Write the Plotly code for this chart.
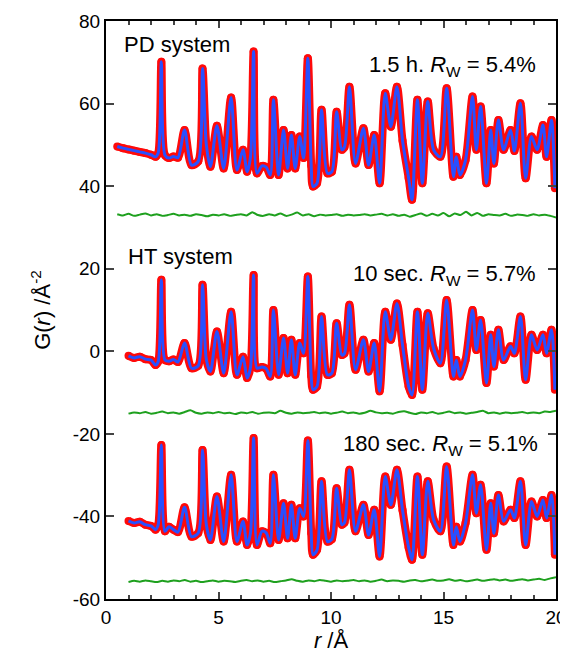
import plotly.graph_objects as go

# ---- data ----
r_knots = [1.0, 1.25, 1.5, 1.75, 2.0, 2.2, 2.32, 2.46, 2.62, 2.8,
           3.0, 3.2, 3.49, 3.8, 4.1, 4.29, 4.46, 4.64, 4.93, 5.23,
           5.56, 5.82, 6.09, 6.27, 6.42, 6.56, 6.71, 6.93, 7.12, 7.3,
           7.44, 7.67, 7.89, 8.07, 8.24, 8.41, 8.61, 8.78, 8.97, 9.12,
           9.2, 9.38, 9.58, 9.84, 10.04, 10.25, 10.48, 10.6, 10.82, 11.09,
           11.44, 11.67, 11.92, 12.16, 12.41, 12.66, 12.93, 13.18, 13.45, 13.6,
           13.84, 14.06, 14.3, 14.56, 14.86, 15.14, 15.44, 15.57, 15.73, 15.98,
           16.29, 16.46, 16.65, 16.91, 17.1, 17.24, 17.44, 17.67, 17.98, 18.15,
           18.42, 18.65, 18.91, 19.16, 19.42, 19.58, 19.8, 19.95]

r_pd_start = [0.5, 0.75]
pd_start = [49.6, 49.2]

pd_obs = [48.9, 48.6, 48.3, 48.0, 47.6, 47.1, 48.0, 70.1, 47.5, 46.8,
          47.2, 46.9, 53.6, 45.1, 46.0, 68.5, 50.0, 44.7, 54.6, 44.3,
          61.5, 43.9, 48.8, 43.5, 47.0, 72.6, 43.1, 44.9, 44.6, 42.7,
          60.9, 42.7, 53.6, 44.3, 52.4, 44.3, 52.0, 46.8, 71.0, 45.0,
          39.9, 40.7, 58.5, 43.1, 43.5, 58.0, 48.8, 49.5, 64.1, 45.5,
          54.0, 45.1, 52.4, 40.7, 62.5, 54.4, 64.1, 51.0, 42.0, 36.7,
          60.9, 40.7, 60.5, 48.8, 47.1, 63.7, 42.3, 47.1, 42.7, 46.3,
          61.7, 48.8, 59.3, 40.7, 53.6, 45.5, 56.0, 48.8, 53.6, 48.5,
          60.1, 41.9, 52.0, 48.8, 54.8, 47.1, 56.0, 39.5]

ht_obs = [-1.1, -1.6, -1.3, -1.9, -2.1, -3.3, -2.5, 17.3, -2.1, -2.4,
          -2.0, -2.6, 2.0, -4.1, -3.5, 16.1, -2.0, -4.9, 4.8, -5.3,
          9.6, -5.7, -1.3, -6.5, -4.0, 18.5, -4.1, -3.8, -4.2, -6.1,
          10.0, -5.7, 3.2, -5.3, 2.8, -5.7, 2.0, -0.5, 18.1, -6.0,
          -9.3, -8.5, 8.4, -5.7, -5.3, 6.8, -0.9, -0.5, 11.3, -4.5,
          2.8, -4.9, 2.0, -9.7, 9.6, 2.8, 11.6, 1.5, -8.5, -10.6,
          9.6, -9.3, 9.2, 0.7, -2.9, 12.4, -6.1, -2.1, -6.1, -2.1,
          10.0, 0.3, 7.6, -7.7, 4.0, -3.7, 5.2, -2.1, 1.2, -0.5,
          8.4, -6.9, 4.0, 0.3, 4.0, -0.5, 5.2, -9.3]

s180_obs = [-41.1, -41.6, -41.3, -42.0, -42.3, -43.2, -42.0, -22.7, -43.6, -42.5,
            -43.2, -43.8, -37.8, -44.9, -44.0, -23.9, -42.0, -45.7, -35.2, -46.1,
            -29.9, -46.1, -41.2, -46.9, -44.0, -21.0, -46.9, -43.6, -44.0, -46.5,
            -29.9, -45.7, -36.8, -45.3, -37.2, -45.3, -38.0, -40.0, -21.6, -44.0,
            -49.3, -48.1, -31.5, -46.1, -45.5, -33.2, -42.0, -41.5, -28.7, -43.6,
            -37.2, -44.5, -38.4, -49.7, -30.3, -37.2, -28.7, -38.5, -47.5, -50.5,
            -30.3, -49.3, -31.5, -40.8, -43.6, -27.9, -46.9, -42.5, -46.1, -41.6,
            -29.9, -39.2, -32.3, -48.1, -36.8, -44.1, -34.8, -41.2, -38.4, -40.4,
            -31.5, -46.9, -36.4, -40.0, -36.0, -40.4, -34.8, -49.3]

r_diff = [0.5, 0.75, 1.0, 1.25, 1.5, 1.75, 2.0, 2.25, 2.5, 2.75,
          3.0, 3.25, 3.5, 3.75, 4.0, 4.25, 4.5, 4.75, 5.0, 5.25,
          5.5, 5.75, 6.0, 6.25, 6.5, 6.75, 7.0, 7.25, 7.5, 7.75,
          8.0, 8.25, 8.5, 8.75, 9.0, 9.25, 9.5, 9.75, 10.0, 10.25,
          10.5, 10.75, 11.0, 11.25, 11.5, 11.75, 12.0, 12.25, 12.5, 12.75,
          13.0, 13.25, 13.5, 13.75, 14.0, 14.25, 14.5, 14.75, 15.0, 15.25,
          15.5, 15.75, 16.0, 16.25, 16.5, 16.75, 17.0, 17.25, 17.5, 17.75,
          18.0, 18.25, 18.5, 18.75, 19.0, 19.25, 19.5, 19.75, 20.0]

pd_diff = [33.2, 32.9, 33.3, 32.8, 33.1, 33.4, 32.9, 33.2, 32.8, 33.0,
           33.3, 32.9, 33.1, 32.8, 33.2, 33.0, 32.7, 33.1, 32.9, 33.2,
           32.8, 33.0, 33.2, 32.9, 33.7, 33.0, 32.8, 33.2, 32.9, 33.4,
           32.8, 33.1, 33.6, 32.9, 33.2, 32.7, 33.1, 32.9, 33.0, 33.2,
           32.8, 33.1, 32.9, 33.0, 33.2, 32.9, 33.1, 33.3, 32.9, 33.2,
           32.8, 33.1, 32.6, 33.0, 33.4, 32.8, 33.3, 32.9, 33.5, 32.7,
           33.4, 33.0, 33.8, 32.9, 33.5, 32.8, 33.2, 33.0, 32.9, 33.3,
           32.8, 33.1, 33.0, 32.8, 33.2, 32.9, 33.1, 32.8, 32.4]

ht_diff = [-15.1, -14.8, -15.0, -14.7, -15.1, -14.9, -14.6, -15.0, -14.8, -15.1,
           -14.7, -14.3, -14.9, -15.1, -14.8, -15.0, -14.7, -15.0, -14.9, -15.2,
           -14.8, -15.0, -14.7, -15.1, -14.9, -14.8, -15.0, -14.4, -14.9, -15.1,
           -14.8, -15.0, -14.9, -14.7, -15.0, -14.8, -15.1, -14.9, -14.6, -15.0,
           -14.8, -15.1, -14.9, -14.4, -14.8, -15.0, -14.9, -15.1, -14.7, -14.5,
           -14.9, -15.2, -14.8, -15.0, -14.7, -15.1, -14.9, -14.6, -15.0, -14.8,
           -15.1, -14.9, -14.7, -14.4, -15.0, -14.8, -15.1, -14.8, -15.0, -14.9,
           -14.7, -15.0, -14.8, -15.0, -14.6, -14.7, -14.4]

s180_diff = [-55.9, -55.6, -55.8, -55.5, -55.7, -55.9, -55.6, -55.8, -55.5, -55.7,
             -55.4, -55.8, -55.6, -55.9, -55.7, -55.5, -55.8, -55.6, -55.7, -55.9,
             -55.6, -55.4, -55.7, -55.5, -55.8, -55.6, -55.9, -55.7, -55.5, -55.2,
             -55.6, -55.8, -55.5, -55.7, -55.4, -55.6, -55.8, -55.5, -55.7, -55.6,
             -55.4, -55.7, -55.5, -55.8, -55.6, -55.3, -55.7, -55.5, -55.6, -55.8,
             -55.5, -55.4, -55.7, -55.5, -55.3, -55.6, -55.5, -55.2, -55.6, -55.4,
             -55.7, -55.5, -55.3, -55.6, -55.4, -55.2, -55.5, -55.3, -55.6, -55.4,
             -55.2, -55.5, -55.3, -55.1, -55.4, -55.0, -54.7]

y_ticks = [-60, -40, -20, 0, 20, 40, 60, 80]
y_tick_text = ["-60", "-40", "-20", "0", "20", "40", "60", "80"]
x_ticks = [0, 5, 10, 15, 20]

RED = "rgb(255,10,10)"
BLUE = "rgb(40,80,255)"
GREEN = "rgb(30,160,30)"

fig = go.Figure()

obs_sets = [
    (r_pd_start + r_knots, pd_start + pd_obs),
    (r_knots, ht_obs),
    (r_knots, s180_obs),
]
diff_sets = [
    (r_diff, pd_diff),
    (r_diff[2:], ht_diff),
    (r_diff[2:], s180_diff),
]

for (rx, vy) in obs_sets:
    n = min(len(rx), len(vy))
    fig.add_trace(go.Scatter(x=rx[:n], y=vy[:n], mode="lines+markers",
                             line=dict(color=RED, width=8, shape="spline", smoothing=0.8),
                             marker=dict(color=RED, size=8, symbol="circle"),
                             showlegend=False, hoverinfo="skip"))
for (rx, vy) in obs_sets:
    n = min(len(rx), len(vy))
    fig.add_trace(go.Scatter(x=rx[:n], y=vy[:n], mode="lines",
                             line=dict(color=BLUE, width=3, shape="spline", smoothing=0.8),
                             showlegend=False, hoverinfo="skip"))
for (rx, vy) in diff_sets:
    n = min(len(rx), len(vy))
    fig.add_trace(go.Scatter(x=rx[:n], y=vy[:n], mode="lines",
                             line=dict(color=GREEN, width=2, shape="spline", smoothing=0.6),
                             showlegend=False, hoverinfo="skip"))

FONT = "Liberation Sans, Arial, sans-serif"
ann_font = dict(family=FONT, size=22, color="black")
annotations = [
    dict(x=0.72, y=74.3, text="PD system", xanchor="left", yanchor="middle"),
    dict(x=19.2, y=69.1, text="1.5 h. <i>R</i><sub>W</sub> = 5.4%", xanchor="right", yanchor="middle"),
    dict(x=0.9, y=23.0, text="HT system", xanchor="left", yanchor="middle"),
    dict(x=19.2, y=18.5, text="10 sec. <i>R</i><sub>W</sub> = 5.7%", xanchor="right", yanchor="middle"),
    dict(x=19.3, y=-22.7, text="180 sec. <i>R</i><sub>W</sub> = 5.1%", xanchor="right", yanchor="middle"),
]
for a in annotations:
    a.update(xref="x", yref="y", showarrow=False, font=ann_font)

# The page adds an 8 px body margin, so the figure is shifted by 8 px.
fig.update_layout(
    width=560, height=646,
    margin=dict(l=98, r=12, t=13, b=55, autoexpand=False),
    paper_bgcolor="white", plot_bgcolor="white",
    font=dict(family=FONT, size=19, color="black"),
    annotations=annotations,
    showlegend=False,
)
fig.update_xaxes(range=[0, 20], tickvals=x_ticks, ticks="inside", ticklen=7, tickwidth=1.5,
                 showline=True, linewidth=2, linecolor="black", mirror="allticks",
                 showgrid=False, zeroline=False, automargin=False, ticklabeloverflow="allow",
                 minor=dict(dtick=1, ticks="inside", ticklen=4, tickwidth=1.5, showgrid=False),
                 title=dict(text="<i>r</i> /Å", font=dict(size=22), standoff=2),
                 tickfont=dict(size=19))
fig.update_yaxes(range=[-60, 80], tickvals=y_ticks, ticktext=y_tick_text, ticks="inside",
                 ticklen=8, tickwidth=1.5,
                 showline=True, linewidth=2, linecolor="black", mirror="allticks",
                 showgrid=False, zeroline=False, automargin=False, ticklabeloverflow="allow",
                 title=dict(text="G(<i>r</i>) /Å<sup>-2</sup>", font=dict(size=22), standoff=16),
                 tickfont=dict(size=19))

fig.write_html("out.html")
